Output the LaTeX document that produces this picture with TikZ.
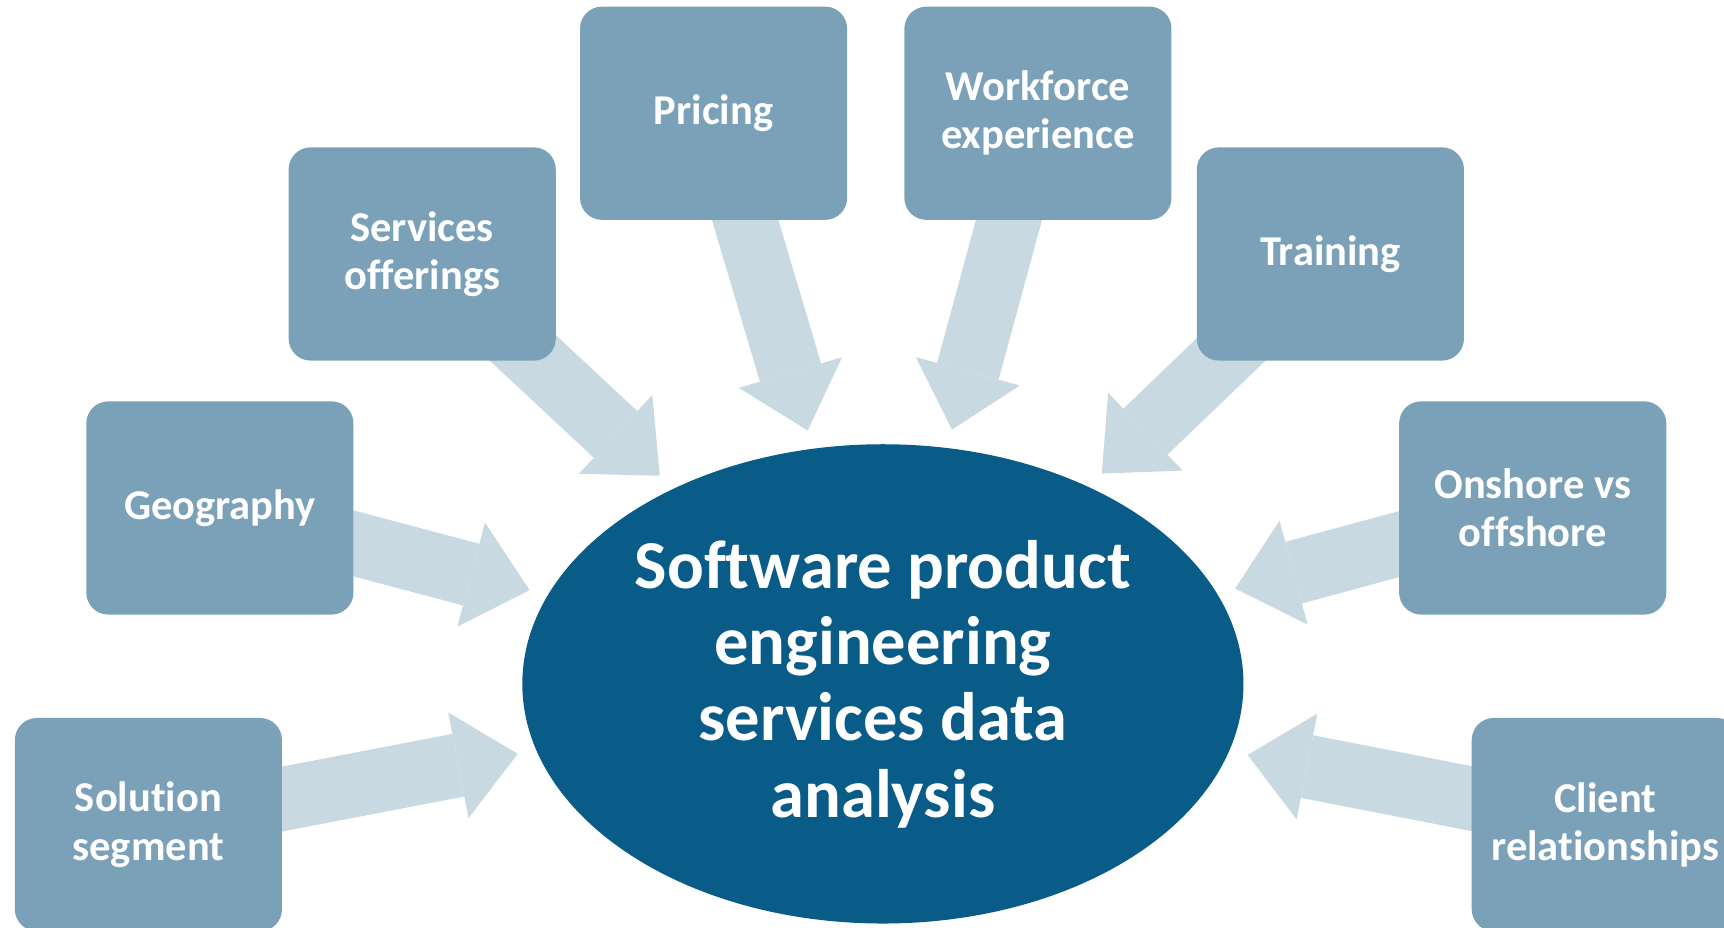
\documentclass[tikz,border=0pt]{standalone}
\usepackage{fontspec}
\setmainfont{Carlito}[Ligatures=NoCommon]
\usetikzlibrary{shapes.geometric}
\usetikzlibrary{arrows.meta}
\usetikzlibrary{backgrounds}
\definecolor{boxblue}{HTML}{7BA1B8}
\definecolor{feedblue}{HTML}{C8D9E2}
\definecolor{hubblue}{HTML}{095B88}
\tikzset{>=stealth,
  factor/.style = {rectangle,rounded corners=0.4cm,fill=boxblue,text=white,
    minimum width=4.86cm,minimum height=3.88cm,inner sep=0pt,align=center,
    font=\bfseries\fontsize{22}{25}\selectfont},
  hub/.style = {ellipse,fill=hubblue,text=white,minimum width=13.12cm,
    minimum height=8.72cm,inner sep=0pt,align=center,
    font=\bfseries\fontsize{35.5}{39.5}\selectfont},
  feed/.style = {draw=feedblue,line width=1.16cm,shorten <=-0.8cm,shorten >=0.34cm,
    -{Triangle[width=1.96cm,length=1.1cm,line width=0pt,color=feedblue]}}
}

\begin{document}
\begin{tikzpicture}[x=0.02cm,y=-0.02cm]
  \path[use as bounding box,clip] (0,0) rectangle (1568,844);

  \node[hub] (hub) at (803,622) {Software product\\engineering\\services data\\analysis};

  \node[factor] (seg) at (135,750) {Solution\\segment};
  \node[factor] (geo) at (200,462) {Geography};
  \node[factor] (serv) at (384,231) {Services\\offerings};
  \node[factor] (price) at (649,103) {Pricing};
  \node[factor] (work) at (944,103) {Workforce\\experience};
  \node[factor] (train) at (1210,231) {Training};
  \node[factor] (shore) at (1394,462) {Onshore vs\\offshore};
  \node[factor] (client) at (1460,750) {Client\\relationships};

  % block arrows behind the boxes
  \begin{scope}[on background layer]
    \foreach \n in {seg,geo,serv,price,work,train,shore,client}
      \draw[feed] (\n) -- (hub);
  \end{scope}
\end{tikzpicture}
\end{document}
